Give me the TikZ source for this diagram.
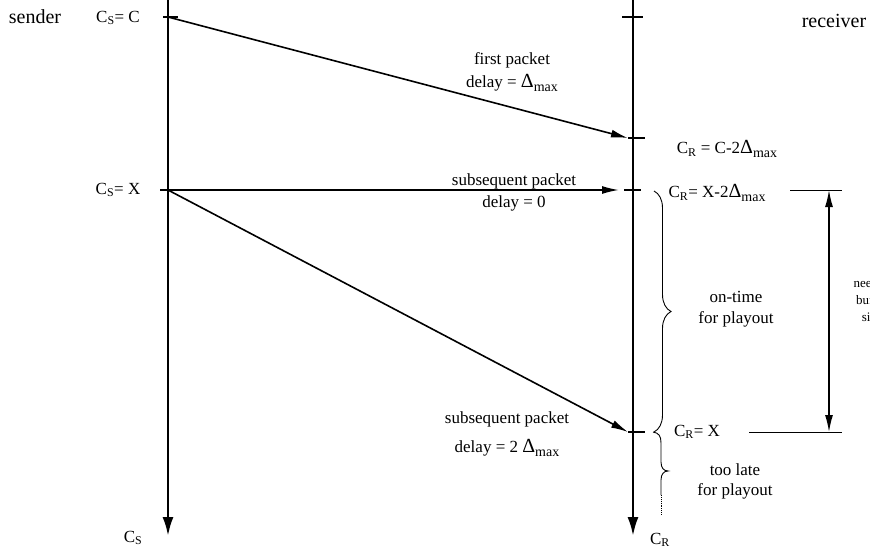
\documentclass[tikz,border=0pt]{standalone}
\usepackage{fontspec}
\setmainfont{Liberation Serif}
\usetikzlibrary{arrows.meta,decorations.pathreplacing}

\newcommand{\dmax}{{\fontsize{20}{20}\selectfont Δ}\raisebox{-0.45ex}{\fontsize{14}{14}\selectfont max}}

\begin{document}
\begin{tikzpicture}[x=1pt, y=-1pt, >={Latex[length=17pt,width=8pt]},
  every node/.style={font=\fontsize{17}{21}\selectfont, inner sep=0pt,
  align=center},
  axis/.style={line width=2.6pt, -{Latex[length=19pt,width=11pt]}},
  pkt/.style={line width=1.6pt},
  tick/.style={line width=1.6pt},
  thin/.style={line width=0.9pt}]
  \useasboundingbox (0,0) rectangle (870,551);
  % time axes
  \coordinate (stop) at (168,0);
  \coordinate (sbot) at (168,536);
  \coordinate (rtop) at (633,0);
  \coordinate (rbot) at (633,536);
  \draw[axis] (stop) -- (sbot);
  \draw[axis] (rtop) -- (rbot);
  % send and receive instants
  \coordinate (sC) at (168,17);
  \coordinate (sX) at (168,190);
  \coordinate (rC) at (628,138);
  \coordinate (rX0) at (619,190);
  \coordinate (rX) at (628,432);
  \draw[tick] (163,17) -- (178,17);
  \draw[tick] (160,190) -- (sX);
  \draw[tick] (622,17) -- (643,17);
  \draw[tick] (rC) -- (645,138);
  \draw[tick] (624,190) -- (641,190);
  \draw[tick] (rX) -- (645,432);
  % packets
  \draw[pkt,->] (sC) -- (rC);
  \draw[pkt,->] (sX) -- (rX0);
  \draw[pkt,->] (sX) -- (rX);
  % labels
  \node[font=\fontsize{20}{24}\selectfont] (sender) at (35,17) {sender};
  \node[font=\fontsize{20}{24}\selectfont] (receiver) at (834,21) {receiver};
  \node (csc) at (118,18) {C\textsubscript{S}= C};
  \node (csx) at (118,190) {C\textsubscript{S}= X};
  \node (cs) at (133,538) {C\textsubscript{S}};
  \node (cr) at (660,540) {C\textsubscript{R}};
  \node (first) at (512,60) {first packet};
  \node (d1) at (512,83) {delay = \dmax};
  \node (sub1) at (514,181) {subsequent packet};
  \node (d0) at (514,203) {delay = 0};
  \node (sub2) at (507,419) {subsequent packet};
  \node (d2) at (507,448) {delay = 2 \dmax};
  \node (crc) at (727,149) {C\textsubscript{R} = C-2\dmax};
  \node (crx2) at (717,193) {C\textsubscript{R}= X-2\dmax};
  \node (crx) at (697,432) {C\textsubscript{R}= X};
  \node (ontime) at (736,309) {on-time\\for playout};
  \node[font=\fontsize{17}{20}\selectfont] (late) at (735,481) {too late\\for playout};
  \node[font=\fontsize{13}{17}\selectfont] (buffer) at (872,300) {needed\\buffer\\size};
  % braces
  \draw[thin, decorate, decoration={brace, amplitude=17pt}] (654,191) -- (654,432);
  \draw[thin] (653,432) .. controls (659,433) and (661,436) .. (661,443)
    -- (661,462) .. controls (661,468) and (664,471) .. (668,471)
    .. controls (664,471) and (661,474) .. (661,480) -- (661,495);
  \draw[thin, densely dotted] (661,495) -- (661,515);
  % buffer size
  \coordinate (bt) at (829,190);
  \coordinate (bb) at (829,432);
  \draw[thin] (790,190) -- (842,190);
  \draw[thin] (749,432) -- (842,432);
  \draw[line width=1.4pt, <->] (bt) -- (bb);
\end{tikzpicture}
\end{document}
